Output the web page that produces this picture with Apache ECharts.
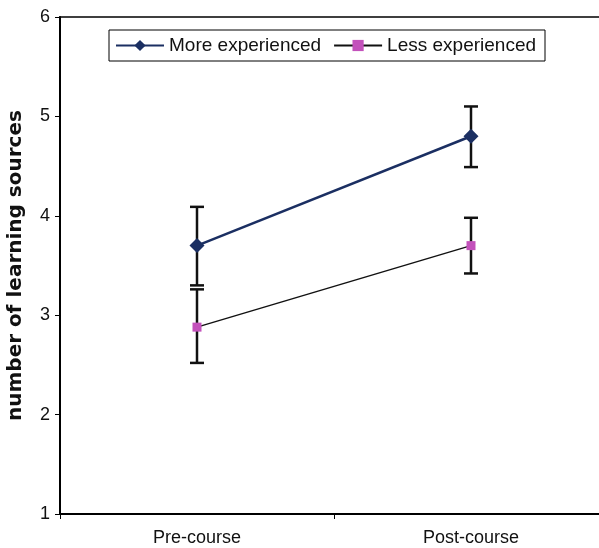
<!DOCTYPE html>
<html>
<head>
<meta charset="utf-8">
<script src="https://cdn.jsdelivr.net/npm/echarts@6/dist/echarts.min.js"></script>
<style>
  html, body { margin: 0; padding: 0; background: #fff; }
  #chart { width: 599px; height: 548px; }
</style>
</head>
<body>
<div id="chart"></div>
<script>
const categories = ['Pre-course', 'Post-course'];
const moreExperienced = [3.7, 4.8];
const moreLow = [3.3, 4.49];
const moreHigh = [4.09, 5.1];
const lessExperienced = [2.88, 3.7];
const lessLow = [2.52, 3.42];
const lessHigh = [3.26, 3.98];
const yTicks = [1, 2, 3, 4, 5, 6];

const NAVY = '#1B2F62';
const MAGENTA = '#C351BB';
const FONT = '"Liberation Sans", Arial, sans-serif';

const errData = [];
categories.forEach((c, i) => {
  errData.push([i, moreLow[i], moreHigh[i]]);
  errData.push([i, lessLow[i], lessHigh[i]]);
});

function renderErr(params, api) {
  const x = api.value(0);
  const lo = api.coord([x, api.value(1)]);
  const hi = api.coord([x, api.value(2)]);
  const hw = 7;
  const style = { stroke: '#111', lineWidth: 2.5 };
  return {
    type: 'group',
    children: [
      { type: 'line', shape: { x1: lo[0], y1: lo[1], x2: hi[0], y2: hi[1] }, style },
      { type: 'line', shape: { x1: lo[0] - hw, y1: lo[1], x2: lo[0] + hw, y2: lo[1] }, style },
      { type: 'line', shape: { x1: hi[0] - hw, y1: hi[1], x2: hi[0] + hw, y2: hi[1] }, style }
    ]
  };
}

const chart = echarts.init(document.getElementById('chart'), null, { renderer: 'canvas' });
chart.setOption({
  animation: false,
  backgroundColor: '#fff',
  textStyle: { fontFamily: FONT },
  grid: {
    left: 60, right: -9, top: 17, bottom: 34,
    outerBoundsMode: 'none',
    containLabel: false,
    show: true, borderColor: '#000', borderWidth: 1.5, backgroundColor: 'transparent'
  },
  legend: {
    left: 109, top: 30,
    padding: [6, 9, 6, 6],
    borderColor: '#000', borderWidth: 1, backgroundColor: '#fff',
    itemWidth: 48, itemHeight: 14, itemGap: 12,
    textStyle: { fontSize: 19, color: '#111', fontFamily: FONT },
    data: ['More experienced', 'Less experienced']
  },
  xAxis: {
    type: 'category',
    data: categories,
    boundaryGap: true,
    axisLine: { lineStyle: { color: '#000', width: 2 } },
    axisTick: { show: true, length: 5, inside: false, lineStyle: { color: '#000', width: 1 } },
    axisLabel: { fontSize: 18, color: '#111', margin: 15, fontFamily: FONT },
    splitLine: { show: false }
  },
  yAxis: {
    type: 'value',
    min: yTicks[0], max: yTicks[yTicks.length - 1], interval: 1,
    name: 'number of learning sources',
    nameLocation: 'middle',
    nameGap: 34,
    nameTextStyle: { fontSize: 20, fontWeight: 'bold', color: '#111', fontFamily: '"DejaVu Sans", sans-serif' },
    axisLine: { show: true, lineStyle: { color: '#000', width: 2 } },
    axisTick: { show: true, length: 5, inside: false, lineStyle: { color: '#000', width: 1 } },
    axisLabel: { fontSize: 18, color: '#111', margin: 10, fontFamily: FONT },
    splitLine: { show: false }
  },
  series: [
    {
      type: 'custom',
      name: 'err',
      renderItem: renderErr,
      data: errData,
      encode: { x: 0, y: [1, 2] },
      z: 1,
      silent: true
    },
    {
      name: 'More experienced',
      type: 'line',
      data: moreExperienced,
      symbol: 'diamond',
      symbolSize: 15,
      lineStyle: { color: NAVY, width: 2.5 },
      itemStyle: { color: NAVY },
      z: 3
    },
    {
      name: 'Less experienced',
      type: 'line',
      data: lessExperienced,
      symbol: 'rect',
      symbolSize: 9,
      lineStyle: { color: '#111', width: 1.5 },
      itemStyle: { color: MAGENTA },
      z: 3
    }
  ]
});
</script>
</body>
</html>
